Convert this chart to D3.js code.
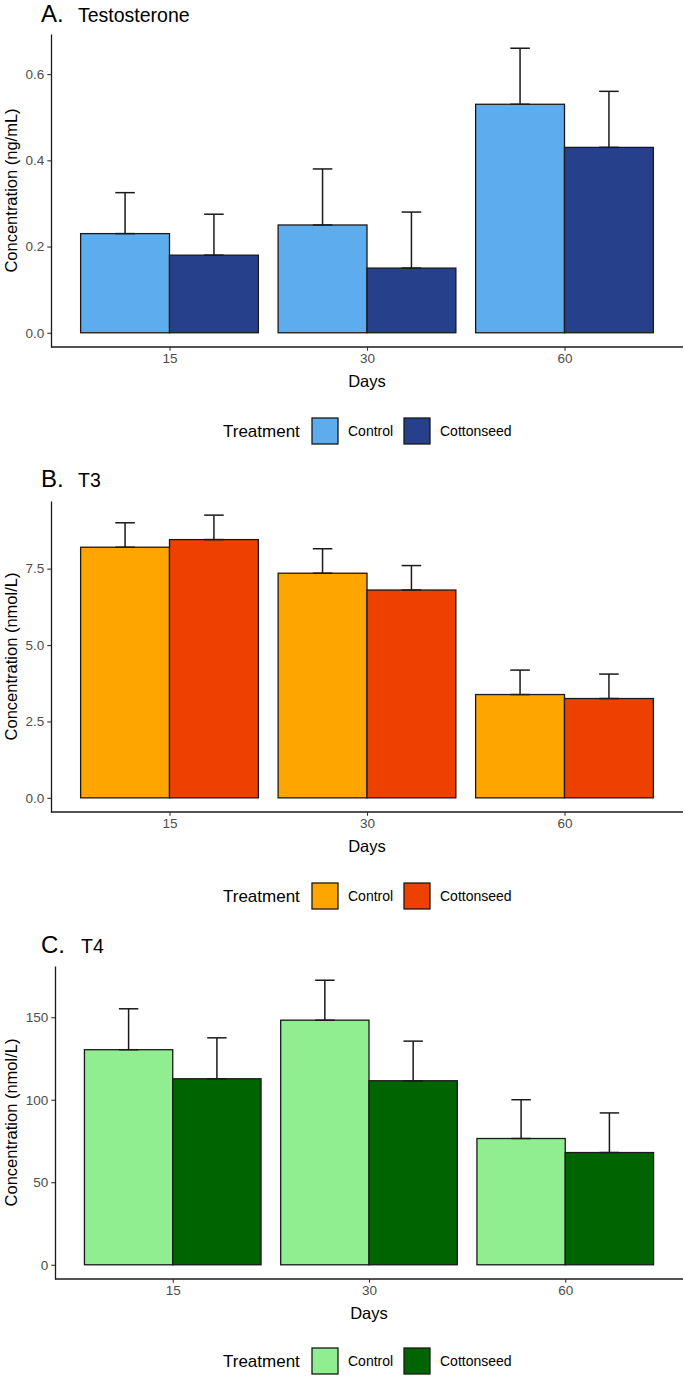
<!DOCTYPE html>
<html>
<head>
<meta charset="utf-8">
<script src="https://cdn.jsdelivr.net/npm/d3@7"></script>
<style>
  body { margin: 0; background: #fff; }
  text { font-family: "Liberation Sans", Arial, Helvetica, sans-serif; }
</style>
</head>
<body>
<svg id="chart" width="685" height="1379"></svg>
<script>
// ---- data ----
const days = ["15", "30", "60"];
const treatments = ["Control", "Cottonseed"];

const testoControl = [0.23, 0.25, 0.53];
const testoControlSE = [0.095, 0.13, 0.13];
const testoCotton = [0.18, 0.15, 0.43];
const testoCottonSE = [0.095, 0.13, 0.13];
const testoTicks = [0, 0.2, 0.4, 0.6];

const t3Control = [8.2, 7.35, 3.38];
const t3ControlSE = [0.8, 0.8, 0.8];
const t3Cotton = [8.45, 6.8, 3.25];
const t3CottonSE = [0.8, 0.8, 0.8];
const t3Ticks = [0, 2.5, 5, 7.5];

const t4Control = [130.3, 148.2, 76.5];
const t4ControlSE = [24.8, 24.2, 23.5];
const t4Cotton = [112.7, 111.5, 68];
const t4CottonSE = [24.8, 24.0, 24.0];
const t4Ticks = [0, 50, 100, 150];

const svg = d3.select("#chart");
svg.append("rect").attr("width", 685).attr("height", 1379).attr("fill", "#fff");

const tickGrey = "#4D4D4D";

function drawPanel(p) {
  let rows = [];
  days.forEach(function(d, i) {
    rows.push({ day: d, trt: "Control", mean: p.control[i], se: p.controlSE[i] });
    rows.push({ day: d, trt: "Cottonseed", mean: p.cotton[i], se: p.cottonSE[i] });
  });

  let maxTop = d3.max(rows, d => d.mean + d.se);
  let pad = maxTop * 0.05;

  let x = d3.scalePoint()
    .domain(days)
    .range([p.x0, p.x1])
    .padding(0.6);
  let step = x.step();

  let dodge = d3.scaleBand()
    .domain(treatments)
    .range([-0.45 * step, 0.45 * step]);

  let y = d3.scaleLinear()
    .domain([-pad, maxTop + pad])
    .range([p.yBottom, p.yTop]);

  let color = d3.scaleOrdinal().domain(treatments).range(p.colors);

  // bars
  svg.append("g")
    .selectAll("rect")
    .data(rows)
    .enter().append("rect")
      .attr("x", d => x(d.day) + dodge(d.trt))
      .attr("y", d => y(d.mean))
      .attr("width", dodge.bandwidth())
      .attr("height", d => y(0) - y(d.mean))
      .attr("fill", d => color(d.trt))
      .attr("stroke", "#1a1a1a")
      .attr("stroke-width", 1.3);

  // error bars (upper only)
  let capHalf = dodge.bandwidth() * 0.11;
  let eb = svg.append("g")
    .selectAll("g")
    .data(rows)
    .enter().append("g")
      .attr("stroke", "#1a1a1a")
      .attr("stroke-width", 1.5)
      .attr("fill", "none");
  eb.append("line")
    .attr("x1", d => x(d.day) + dodge(d.trt) + dodge.bandwidth() / 2)
    .attr("x2", d => x(d.day) + dodge(d.trt) + dodge.bandwidth() / 2)
    .attr("y1", d => y(d.mean))
    .attr("y2", d => y(d.mean + d.se));
  eb.append("line")
    .attr("x1", d => x(d.day) + dodge(d.trt) + dodge.bandwidth() / 2 - capHalf)
    .attr("x2", d => x(d.day) + dodge(d.trt) + dodge.bandwidth() / 2 + capHalf)
    .attr("y1", d => y(d.mean + d.se))
    .attr("y2", d => y(d.mean + d.se));
  eb.append("line")
    .attr("x1", d => x(d.day) + dodge(d.trt) + dodge.bandwidth() / 2 - capHalf)
    .attr("x2", d => x(d.day) + dodge(d.trt) + dodge.bandwidth() / 2 + capHalf)
    .attr("y1", d => y(d.mean))
    .attr("y2", d => y(d.mean));

  // axes
  let yAxis = svg.append("g")
    .attr("transform", "translate(" + p.x0 + ",0)")
    .call(d3.axisLeft(y).tickValues(p.ticks).tickFormat(d3.format(p.fmt))
      .tickSize(3.7).tickSizeOuter(0).tickPadding(3));
  let xAxis = svg.append("g")
    .attr("transform", "translate(0," + p.yBottom + ")")
    .call(d3.axisBottom(x).tickSize(3.7).tickSizeOuter(0).tickPadding(3));
  xAxis.select(".domain").attr("d", "M" + p.x0 + ",0H" + p.x1);
  [yAxis, xAxis].forEach(function(a) {
    a.attr("font-size", null);
    a.select(".domain").attr("stroke", "#1a1a1a").attr("stroke-width", 1.3);
    a.selectAll(".tick line").attr("stroke", "#333").attr("stroke-width", 1.1);
    a.selectAll(".tick text")
      .attr("fill", tickGrey)
      .style("font-size", "13.5px")
      .style("font-family", "'Liberation Sans', Arial, sans-serif");
  });

  // axis titles
  svg.append("text")
    .attr("transform", "translate(" + p.yLabX + "," + ((p.yTop + p.yBottom) / 2) + ") rotate(-90)")
    .attr("text-anchor", "middle")
    .style("font-size", "16.5px")
    .attr("fill", "#000")
    .text(p.ylab);
  svg.append("text")
    .attr("x", x("30"))
    .attr("y", p.yBottom + 40)
    .attr("text-anchor", "middle")
    .style("font-size", "16.5px")
    .attr("fill", "#000")
    .text("Days");

  // tag + title
  svg.append("text")
    .attr("x", 41)
    .attr("y", p.titleY)
    .style("font-size", "24px")
    .text(p.tag);
  svg.append("text")
    .attr("x", p.titleX)
    .attr("y", p.titleY)
    .style("font-size", "19.5px")
    .text(p.title);

  // legend
  let ly = p.legendY;
  svg.append("text")
    .attr("x", 223)
    .attr("y", ly + 6)
    .style("font-size", "17px")
    .text("Treatment");
  let keyX = [312, 404];
  let labX = [348, 440];
  treatments.forEach(function(t, i) {
    svg.append("rect")
      .attr("x", keyX[i])
      .attr("y", ly - 13)
      .attr("width", 26)
      .attr("height", 26)
      .attr("fill", color(t))
      .attr("stroke", "#1a1a1a")
      .attr("stroke-width", 1.3);
    svg.append("text")
      .attr("x", labX[i])
      .attr("y", ly + 5)
      .style("font-size", "14px")
      .text(t);
  });
}

drawPanel({
  tag: "A.", title: "Testosterone", titleX: 78, titleY: 22,
  ylab: "Concentration (ng/mL)", yLabX: 17,
  control: testoControl, controlSE: testoControlSE,
  cotton: testoCotton, cottonSE: testoCottonSE,
  ticks: testoTicks, fmt: ".1f",
  colors: ["#5CACEE", "#27408B"],
  x0: 51, x1: 683, yTop: 34, yBottom: 347, legendY: 431
});

drawPanel({
  tag: "B.", title: "T3", titleX: 78, titleY: 487,
  ylab: "Concentration (nmol/L)", yLabX: 17,
  control: t3Control, controlSE: t3ControlSE,
  cotton: t3Cotton, cottonSE: t3CottonSE,
  ticks: t3Ticks, fmt: ".1f",
  colors: ["#FFA500", "#EE4000"],
  x0: 51, x1: 683, yTop: 501, yBottom: 812, legendY: 896
});

drawPanel({
  tag: "C.", title: "T4", titleX: 81, titleY: 953,
  ylab: "Concentration (nmol/L)", yLabX: 17,
  control: t4Control, controlSE: t4ControlSE,
  cotton: t4Cotton, cottonSE: t4CottonSE,
  ticks: t4Ticks, fmt: "d",
  colors: ["#90EE90", "#006400"],
  x0: 55, x1: 683, yTop: 966, yBottom: 1279, legendY: 1361
});
</script>
</body>
</html>
